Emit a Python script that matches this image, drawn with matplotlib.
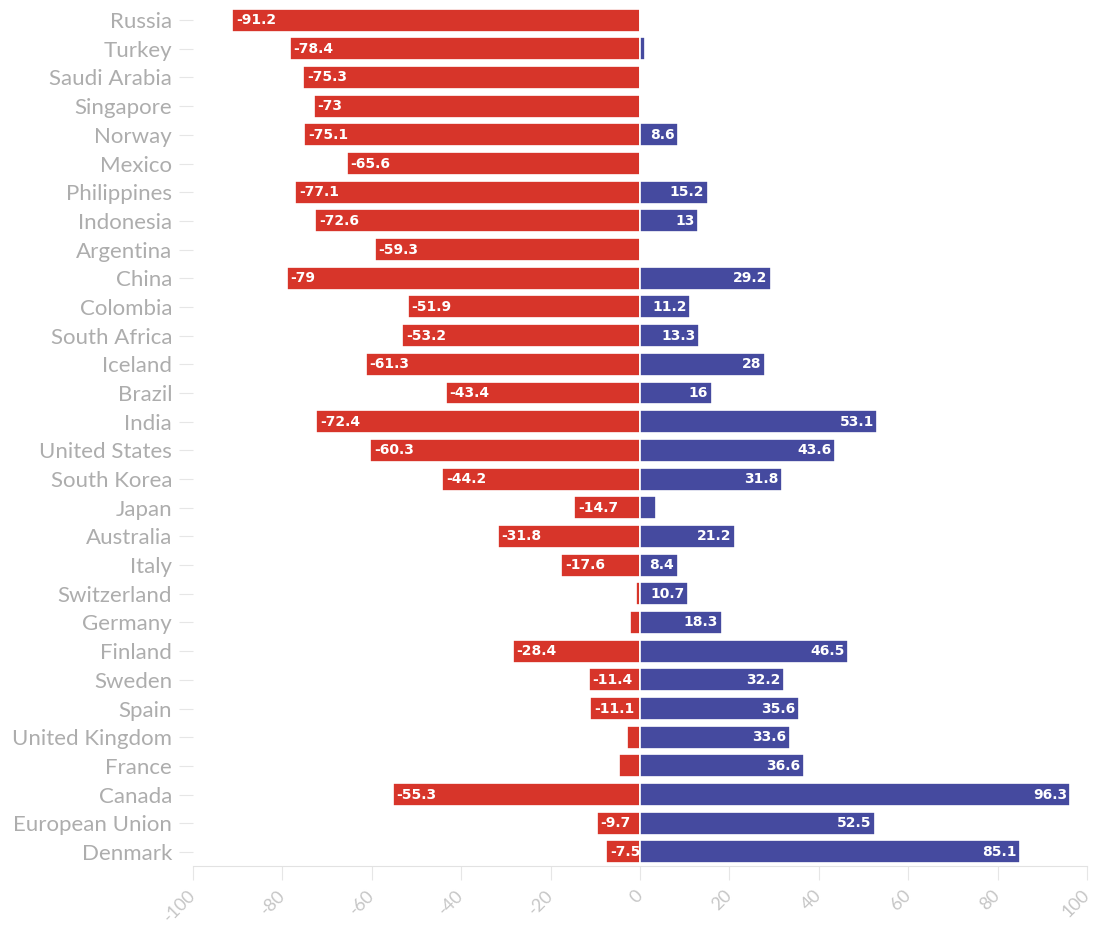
import numpy as np
import matplotlib.pyplot as plt

# dados
countries = ["Russia", "Turkey", "Saudi Arabia", "Singapore", "Norway", "Mexico",
             "Philippines", "Indonesia", "Argentina", "China", "Colombia", "South Africa",
             "Iceland", "Brazil", "India", "United States", "South Korea", "Japan",
             "Australia", "Italy", "Switzerland", "Germany", "Finland", "Sweden", "Spain",
             "United Kingdom", "France", "Canada", "European Union", "Denmark"]
negative = [-91.2, -78.4, -75.3, -73, -75.1, -65.6, -77.1, -72.6, -59.3, -79, -51.9, -53.2,
            -61.3, -43.4, -72.4, -60.3, -44.2, -14.7, -31.8, -17.6, -0.8, -2.2, -28.4, -11.4,
            -11.1, -2.8, -4.7, -55.3, -9.7, -7.5]
positive = [0, 1.2, 0, 0, 8.6, 0, 15.2, 13, 0, 29.2, 11.2, 13.3, 28, 16, 53.1, 43.6, 31.8,
            3.6, 21.2, 8.4, 10.7, 18.3, 46.5, 32.2, 35.6, 33.6, 36.6, 96.3, 52.5, 85.1]
xticks = list(range(-100, 101, 20))

red = "#d7352a"
blue = "#454a9f"

fig = plt.figure(figsize=(10.99, 9.26), dpi=100)
ax = fig.add_axes([0.1756, 0.0645, 0.8135, 0.9293])

y = np.arange(len(countries))[::-1]
ax.barh(y, negative, height=0.8, color=red, edgecolor="white", linewidth=1.2)
ax.barh(y, positive, height=0.8, color=blue, edgecolor="white", linewidth=1.2)

# rótulos de valor dentro das barras
for yi, n, p in zip(y, negative, positive):
    if abs(n) >= 5:
        ax.text(n + 0.8, yi, f"{n:g}", color="white", fontsize=10, fontweight="bold",
                ha="left", va="center", family="DejaVu Sans")
    if p >= 5:
        ax.text(p - 0.8, yi, f"{p:g}", color="white", fontsize=10, fontweight="bold",
                ha="right", va="center", family="DejaVu Sans")

ax.set_xlim(-100, 100)
ax.set_ylim(-0.5, len(countries) - 0.5)
ax.set_yticks(y)
ax.set_yticklabels(countries, fontsize=16, color="#adadad", family="Lato")
ax.set_xticks(xticks)
ax.set_xticklabels([str(t) for t in xticks], rotation=45, fontsize=13, color="#c6c6c6",
                   family="Lato", ha="right", va="center", rotation_mode="anchor")

for s in ["top", "right", "left"]:
    ax.spines[s].set_visible(False)
ax.spines["bottom"].set_color("#e2e2e2")
ax.tick_params(axis="y", length=10, color="#e6e6e6", pad=5)
ax.tick_params(axis="x", length=10, color="#e6e6e6", pad=9)

plt.savefig("out.png", dpi=100)
